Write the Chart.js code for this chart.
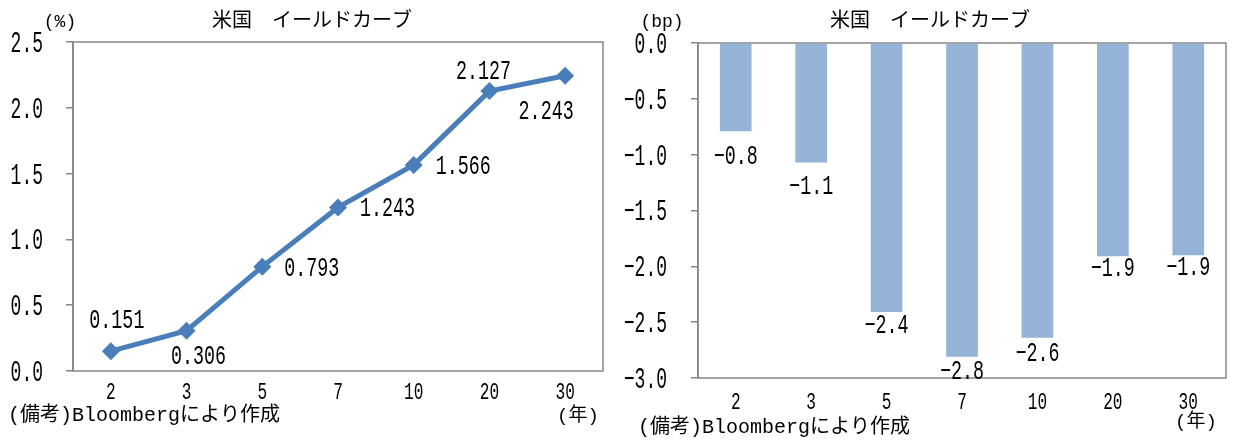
<!DOCTYPE html>
<html>
<head>
<meta charset="utf-8">
<script src="https://cdn.jsdelivr.net/npm/chart.js@4.4.1/dist/chart.umd.min.js"></script>
<style>
  html, body { margin: 0; padding: 0; background: #fff; }
  .wrap { display: flex; width: 1236px; height: 442px; }
  .wrap canvas { display: block; }
</style>
</head>
<body>
<div class="wrap">
  <canvas id="yieldChart" width="618" height="442"></canvas>
  <canvas id="changeChart" width="618" height="442"></canvas>
</div>
<script>
// data
const MATURITIES = ['2', '3', '5', '7', '10', '20', '30'];
const YIELDS = [0.151, 0.306, 0.793, 1.243, 1.566, 2.127, 2.243];
const CHANGES_BP = [-0.79, -1.07, -2.41, -2.81, -2.64, -1.91, -1.90];

const TITLE = '米国　イールドカーブ';
const NOTE = '(備考)Bloombergにより作成';
const YEAR_UNIT = '(年)';

// the reference uses a tall, narrow gothic for numbers: mono font squeezed sideways
const MONO = '"Liberation Mono", "DejaVu Sans Mono", "Noto Sans CJK JP", monospace';
const JP = '"Noto Sans CJK JP", sans-serif';
const AXIS_GRAY = '#868686';
const minus = s => s.replace('-', '−');

function narrowText(ctx, text, x, y, size, sx, align) {
    ctx.save();
    ctx.font = size + 'px ' + MONO;
    ctx.textAlign = align || 'center';
    ctx.textBaseline = 'alphabetic';
    ctx.translate(x, y + size * 0.33);
    ctx.scale(sx, 1);
    ctx.fillText(text, 0, 0);
    ctx.restore();
}

// plot box, tick labels, title and notes
const frame = {
    id: 'frame',
    beforeDatasetsDraw(chart, args, o) {
        const { ctx, chartArea: a } = chart;
        ctx.save();
        ctx.strokeStyle = AXIS_GRAY;
        ctx.lineWidth = 1.5;
        ctx.strokeRect(a.left, a.top, a.right - a.left, a.bottom - a.top);
        ctx.restore();
    },
    afterDraw(chart, args, o) {
        const { ctx } = chart;
        const xs = chart.scales.x, ys = chart.scales.y;
        ctx.save();
        ctx.fillStyle = '#000';

        ys.ticks.forEach((t, i) => {
            narrowText(ctx, minus(t.value.toFixed(1)), o.yLabelX, ys.getPixelForTick(i), 30, 0.6, 'right');
        });
        xs.ticks.forEach((t, i) => {
            narrowText(ctx, chart.data.labels[i], xs.getPixelForTick(i), xs.top + o.xLabelGap, 23, 0.7);
        });

        ctx.textBaseline = 'middle';
        ctx.textAlign = 'center';
        ctx.font = '20px ' + JP;
        ctx.fillText(TITLE, chart.width / 2 + 3, 19);
        ctx.font = '18px ' + MONO;
        ctx.fillText(o.unit, o.unitX, 22);
        ctx.textAlign = 'left';
        ctx.font = '20px ' + MONO;
        ctx.fillText(NOTE, o.noteX, o.noteY);
        ctx.textAlign = 'center';
        ctx.font = '19px ' + MONO;
        ctx.fillText(YEAR_UNIT, o.yearX, o.yearY);
        ctx.restore();
    }
};

// value labels next to each point / bar
const valueLabels = {
    id: 'valueLabels',
    afterDatasetsDraw(chart, args, o) {
        const { ctx } = chart;
        const meta = chart.getDatasetMeta(0);
        const data = chart.data.datasets[0].data;
        ctx.save();
        ctx.fillStyle = '#000';
        meta.data.forEach((el, i) => {
            const off = o.offsets[i];
            narrowText(ctx, minus(data[i].toFixed(o.digits)), el.x + off[0], el.y + off[1], 27, 0.68, off[2]);
        });
        ctx.restore();
    }
};

new Chart(document.getElementById('yieldChart'), {
    type: 'line',
    data: {
        labels: MATURITIES,
        datasets: [{
            data: YIELDS,
            borderColor: '#4a7ebb',
            backgroundColor: '#4a7ebb',
            borderWidth: 5,
            pointStyle: 'rectRot',
            pointRadius: 9,
            pointBackgroundColor: '#4a7ebb',
            pointBorderWidth: 0,
            tension: 0
        }]
    },
    options: {
        responsive: false,
        animation: false,
        layout: { padding: { left: 0, right: 15, top: 42, bottom: 0 } },
        plugins: {
            legend: { display: false },
            tooltip: { enabled: false },
            frame: { unit: '(%)', unitX: 60, yLabelX: 43, xLabelGap: 20, noteX: 8, noteY: 416, yearX: 578, yearY: 416 },
            valueLabels: {
                digits: 3,
                offsets: [[6, -32], [12, 24], [22, 0, 'left'], [22, 0, 'left'], [22, 0, 'left'], [-6, -21], [-19, 34]]
            }
        },
        scales: {
            x: {
                offset: true,
                grid: { display: false },
                border: { display: false },
                ticks: { display: false },
                afterFit: s => { s.height = 71; }
            },
            y: {
                min: 0, max: 2.5,
                grid: { drawOnChartArea: false, tickLength: 7, color: AXIS_GRAY, lineWidth: 1.5 },
                border: { color: AXIS_GRAY, width: 1.5 },
                ticks: { stepSize: 0.5, display: false },
                afterFit: s => { s.width = 73; }
            }
        }
    },
    plugins: [frame, valueLabels]
});

new Chart(document.getElementById('changeChart'), {
    type: 'bar',
    data: {
        labels: MATURITIES,
        datasets: [{
            data: CHANGES_BP,
            backgroundColor: '#95b3d7',
            borderWidth: 0,
            barPercentage: 0.42,
            categoryPercentage: 1
        }]
    },
    options: {
        responsive: false,
        animation: false,
        layout: { padding: { left: 0, right: 10, top: 43, bottom: 0 } },
        plugins: {
            legend: { display: false },
            tooltip: { enabled: false },
            frame: { unit: '(bp)', unitX: 44, yLabelX: 49, xLabelGap: 23, noteX: 20, noteY: 428, yearX: 578, yearY: 422 },
            valueLabels: {
                digits: 1,
                offsets: [[0, 24], [0, 23], [0, 12], [0, 13], [0, 14], [0, 11], [0, 11]]
            }
        },
        scales: {
            x: {
                grid: { display: false },
                border: { display: false },
                ticks: { display: false },
                afterFit: s => { s.height = 64; }
            },
            y: {
                min: -3, max: 0,
                grid: { drawOnChartArea: false, tickLength: 7, color: AXIS_GRAY, lineWidth: 1.5 },
                border: { color: AXIS_GRAY, width: 1.5 },
                ticks: { stepSize: 0.5, display: false },
                afterFit: s => { s.width = 80; }
            }
        }
    },
    plugins: [frame, valueLabels]
});
</script>
</body>
</html>
